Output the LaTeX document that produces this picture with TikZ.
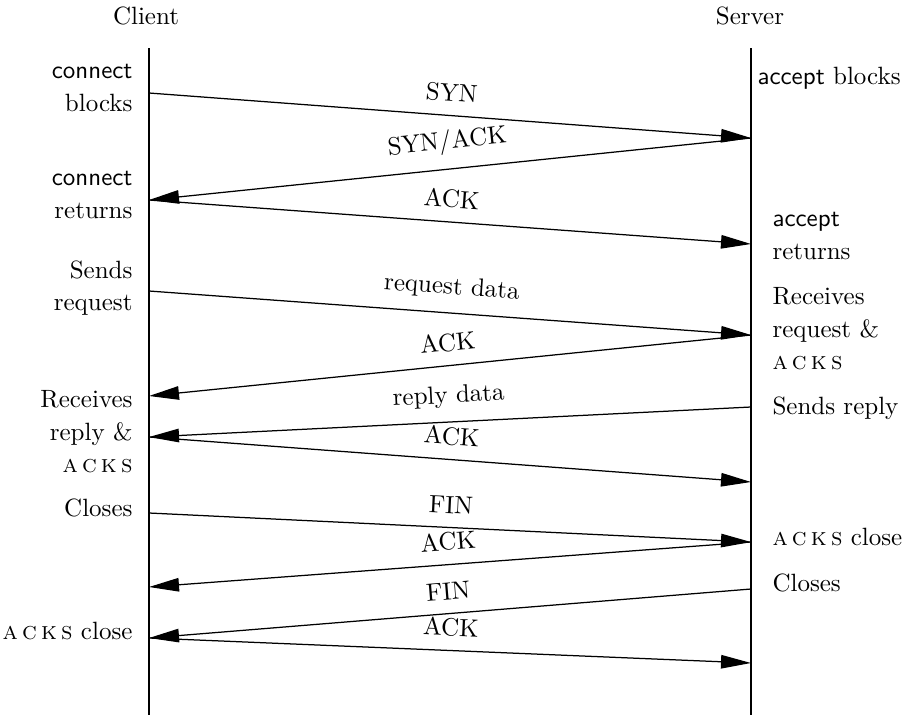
\documentclass[tikz,border=0pt]{standalone}
\usepackage{tikz}
\usetikzlibrary{arrows.meta,positioning,calc}
\newcommand{\acksc}{\textsc{a\,c\,k\,s}}

\begin{document}
\begin{tikzpicture}[
    x=0.4pt, y=-0.4pt,
    actor/.style={inner sep=0pt},
    lifeline/.style={line width=0.55pt},
    msg/.style={-{Triangle[length=12pt,width=5.4pt]}, line width=0.5pt},
    msglabel/.style={above=2pt, sloped, midway},
    cnote/.style={anchor=east, align=right, inner sep=0pt, font=\fontsize{10}{13}\selectfont},
    snote/.style={anchor=west, align=left, inner sep=0pt, font=\fontsize{10}{13}\selectfont}
]
    \useasboundingbox (0,0) rectangle (909,715);

    % Actors and lifelines
    \node[actor] (client) at (146,16) {Client};
    \node[actor] (server) at (750,16) {Server};
    \coordinate (ctop) at (149,48);
    \coordinate (cbot) at (149,715);
    \coordinate (stop) at (751,48);
    \coordinate (sbot) at (751,715);
    \draw[lifeline] (ctop) -- (cbot);
    \draw[lifeline] (stop) -- (sbot);

    % Points on the client side
    \coordinate (c1) at (149,93);
    \coordinate (c2) at (149,200);
    \coordinate (c3) at (149,291);
    \coordinate (c4) at (149,396);
    \coordinate (c5) at (149,437);
    \coordinate (c6) at (149,513);
    \coordinate (c7) at (149,587);
    \coordinate (c8) at (149,638);

    % Points on the server side
    \coordinate (s1) at (751,138);
    \coordinate (s2) at (751,244);
    \coordinate (s3) at (751,335);
    \coordinate (s4) at (751,407);
    \coordinate (s5) at (751,482);
    \coordinate (s6) at (751,542);
    \coordinate (s7) at (751,589);
    \coordinate (s8) at (751,663);

    % Handshake
    \draw[msg] (c1) -- node[msglabel] {SYN} (s1);
    \draw[msg] (s1) -- node[msglabel] {SYN/ACK} (c2);
    \draw[msg] (c2) -- node[msglabel] {ACK} (s2);

    % Data exchange
    \draw[msg] (c3) -- node[msglabel] {request data} (s3);
    \draw[msg] (s3) -- node[msglabel] {ACK} (c4);
    \draw[msg] (s4) -- node[msglabel] {reply data} (c5);
    \draw[msg] (c5) -- node[msglabel] {ACK} (s5);

    % Teardown
    \draw[msg] (c6) -- node[msglabel] {FIN} (s6);
    \draw[msg] (s6) -- node[msglabel] {ACK} (c7);
    \draw[msg] (s7) -- node[msglabel] {FIN} (c8);
    \draw[msg] (c8) -- node[msglabel] {ACK} (s8);

    % Client notes
    \node[cnote] (cconn) at (133,88) {\textsf{connect}\\blocks};
    \node[cnote] (cret) at (133,195) {\textsf{connect}\\returns};
    \node[cnote] (csend) at (133,288) {Sends\\request};
    \node[cnote] (crecv) at (133,432) {Receives\\reply \&\\\acksc};
    \node[cnote] (cclose) at (133,508) {Closes};
    \node[cnote] (cackc) at (133,631) {\acksc{} close};

    % Server notes
    \node[snote] (sacc) at (757,78) {\textsf{accept} blocks};
    \node[snote] (sret) at (772,236) {\textsf{accept}\\returns};
    \node[snote] (srecv) at (772,329) {Receives\\request \&\\\acksc};
    \node[snote] (ssend) at (772,408) {Sends reply};
    \node[snote] (sackc) at (772,537) {\acksc{} close};
    \node[snote] (sclose) at (772,583) {Closes};
\end{tikzpicture}
\end{document}
